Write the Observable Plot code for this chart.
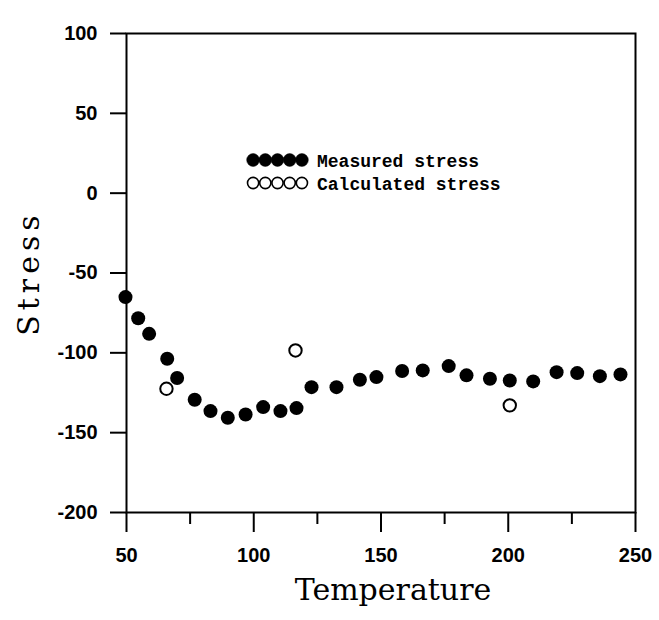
<!DOCTYPE html>
<html>
<head>
<meta charset="utf-8">
<script src="https://cdn.jsdelivr.net/npm/d3@7"></script>
<script src="https://cdn.jsdelivr.net/npm/@observablehq/plot@0.6"></script>
<style>
  html, body { margin: 0; padding: 0; background: #fff; }
  #chart { position: relative; width: 659px; height: 620px; }
</style>
</head>
<body>
<div id="chart"></div>
<script>
// Measured stress (filled circles)
const measuredTemp = [49.6, 54.6, 58.9, 66.0, 69.9, 76.8, 83.0, 89.8, 96.8, 103.7, 110.5, 116.8, 122.7, 132.5, 141.7, 148.2, 158.3, 166.4, 176.6, 183.6, 192.8, 200.6, 209.8, 219.0, 227.1, 236.0, 244.1];
const measuredStress = [-65.1, -78.3, -88.1, -103.7, -115.8, -129.4, -136.5, -140.7, -138.6, -134.0, -136.5, -134.6, -121.5, -121.5, -116.9, -115.2, -111.4, -111.0, -108.3, -114.1, -116.2, -117.3, -117.9, -112.1, -112.7, -114.6, -113.5];
// Calculated stress (open circles)
const calcTemp = [65.7, 116.4, 200.6];
const calcStress = [-122.5, -98.5, -132.9];

const xTicks = [50, 100, 150, 200, 250];
const xMinorTicks = [75, 125, 175, 225];
const yTicks = [100, 50, 0, -50, -100, -150, -200];
const xLabel = "Temperature";
const yLabel = "Stress";
const legendLabels = ["Measured stress", "Calculated stress"];

const measured = measuredTemp.map((t, i) => ({t, s: measuredStress[i]}));
const calculated = calcTemp.map((t, i) => ({t, s: calcStress[i]}));

const tickFont = "Liberation Sans, Arial, sans-serif";
const labelFont = "DejaVu Serif, serif";

const plot = Plot.plot({
  width: 659,
  height: 620,
  marginLeft: 126,
  marginRight: 24,
  marginTop: 33,
  marginBottom: 108,
  style: {background: "#fff", color: "#000", overflow: "visible"},
  x: {domain: [50, 250]},
  y: {domain: [-200, 100]},
  marks: [
    Plot.frame({stroke: "#000", strokeWidth: 2}),
    Plot.axisX({ticks: xTicks, tickSize: 20, tickPadding: 15, tickFormat: d => String(d),
      fontSize: 20, fontWeight: "bold", fontFamily: tickFont, label: null, strokeWidth: 2}),
    Plot.axisX({ticks: xMinorTicks, tickSize: 12, text: null, label: null, strokeWidth: 2}),
    Plot.axisY({ticks: yTicks, tickSize: 16, tickPadding: 13, tickFormat: d => String(d),
      fontSize: 20, fontWeight: "bold", fontFamily: tickFont, label: null, strokeWidth: 2}),
    Plot.dot(measured, {x: "t", y: "s", r: 7, fill: "#000", stroke: "none"}),
    Plot.dot(calculated, {x: "t", y: "s", r: 6.2, fill: "#fff", stroke: "#000", strokeWidth: 2}),
    Plot.text([xLabel], {frameAnchor: "bottom", textAnchor: "middle", dx: 12, dy: 87, fontSize: 30,
      fontFamily: labelFont, fill: "#000"}),
    Plot.text([yLabel], {frameAnchor: "left", textAnchor: "middle", rotate: -90, dx: -97, dy: 0, fontSize: 30,
      fontFamily: labelFont, fill: "#000"})
  ]
});
document.getElementById("chart").appendChild(plot);

const svg = d3.select(plot);
// wide letter spacing of the vertical axis title
svg.selectAll("text").filter(function() { return this.textContent === yLabel; })
  .style("letter-spacing", "5px");

// Legend inside the plot area
const legend = svg.append("g").attr("transform", "translate(247,160)");
legendLabels.forEach((lab, i) => {
  const g = legend.append("g").attr("transform", `translate(0,${i * 23})`);
  for (let k = 0; k < 5; k++) {
    g.append("circle")
      .attr("cx", 6.1 + k * 12.2)
      .attr("cy", 0)
      .attr("r", i === 0 ? 6.4 : 5.6)
      .attr("fill", i === 0 ? "#000" : "#fff")
      .attr("stroke", "#000")
      .attr("stroke-width", i === 0 ? 0.5 : 1.6);
  }
  g.append("text")
    .attr("x", 70)
    .attr("y", 7)
    .attr("text-anchor", "start")
    .attr("font-family", "Liberation Mono, DejaVu Sans Mono, monospace")
    .attr("font-weight", "bold")
    .attr("font-size", 18)
    .attr("fill", "#000")
    .text(lab);
});
</script>
</body>
</html>
